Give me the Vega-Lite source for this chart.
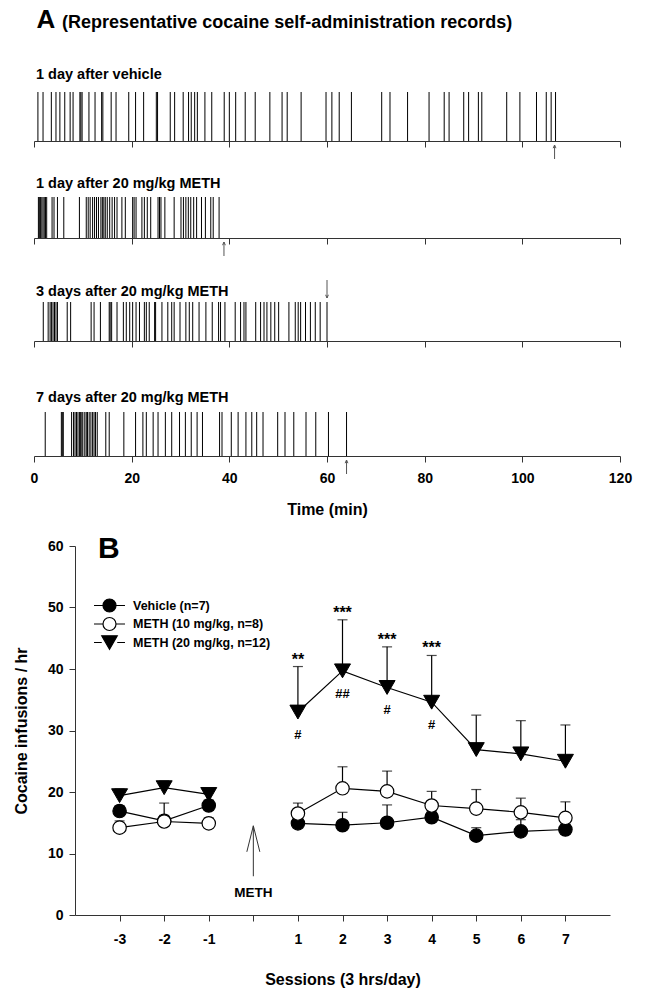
{
  "$schema": "https://vega.github.io/schema/vega-lite/v6.json",
  "background": "white",
  "padding": {"left": 13, "top": 6, "right": 4, "bottom": 4},
  "config": {
    "font": "Liberation Sans",
    "view": {"stroke": null},
    "axis": {"grid": false, "domainColor": "#333", "tickColor": "#333", "labelColor": "black", "titleColor": "black", "labelFont": "Liberation Sans", "titleFont": "Liberation Sans", "labelFontWeight": "bold", "titleFontWeight": "bold"},
    "title": {"font": "Liberation Sans", "fontWeight": "bold", "color": "black"},
    "legend": {"labelFont": "Liberation Sans"}
  },
  "datasets": {
    "events": [
      {"row":"r1","t":0.8},{"row":"r1","t":1.85},{"row":"r1","t":3.55},{"row":"r1","t":4.5},{"row":"r1","t":5.3},{"row":"r1","t":6.3},{"row":"r1","t":7.4},{"row":"r1","t":8.0},{"row":"r1","t":9.4},{"row":"r1","t":9.6},{"row":"r1","t":9.85},{"row":"r1","t":11.25},{"row":"r1","t":12.5},{"row":"r1","t":13.85},{"row":"r1","t":14.1},{"row":"r1","t":15.8},{"row":"r1","t":16.8},{"row":"r1","t":19.4},{"row":"r1","t":20.8},{"row":"r1","t":22.45},{"row":"r1","t":25.05},{"row":"r1","t":25.3},{"row":"r1","t":27.9},{"row":"r1","t":28.8},{"row":"r1","t":30.55},{"row":"r1","t":31.65},{"row":"r1","t":32.2},{"row":"r1","t":32.9},{"row":"r1","t":33.45},{"row":"r1","t":35.0},{"row":"r1","t":36.4},{"row":"r1","t":38.95},{"row":"r1","t":40.0},{"row":"r1","t":41.3},{"row":"r1","t":43.25},{"row":"r1","t":45.3},{"row":"r1","t":48.3},{"row":"r1","t":50.8},{"row":"r1","t":51.85},{"row":"r1","t":54.7},{"row":"r1","t":59.8},{"row":"r1","t":61.0},{"row":"r1","t":62.5},{"row":"r1","t":65.0},{"row":"r1","t":71.2},{"row":"r1","t":72.9},{"row":"r1","t":76.5},{"row":"r1","t":80.9},{"row":"r1","t":84.0},{"row":"r1","t":85.0},{"row":"r1","t":88.0},{"row":"r1","t":89.0},{"row":"r1","t":91.0},{"row":"r1","t":91.7},{"row":"r1","t":96.8},{"row":"r1","t":99.5},{"row":"r1","t":102.9},{"row":"r1","t":104.9},{"row":"r1","t":105.9},{"row":"r1","t":106.8},
      {"row":"r2","t":0.9},{"row":"r2","t":1.1},{"row":"r2","t":1.35},{"row":"r2","t":1.6},{"row":"r2","t":1.85},{"row":"r2","t":2.1},{"row":"r2","t":2.35},{"row":"r2","t":2.6},{"row":"r2","t":3.7},{"row":"r2","t":4.1},{"row":"r2","t":4.8},{"row":"r2","t":6.1},{"row":"r2","t":9.3},{"row":"r2","t":10.7},{"row":"r2","t":11.1},{"row":"r2","t":11.5},{"row":"r2","t":12.0},{"row":"r2","t":12.4},{"row":"r2","t":12.8},{"row":"r2","t":13.2},{"row":"r2","t":13.7},{"row":"r2","t":14.0},{"row":"r2","t":14.3},{"row":"r2","t":14.6},{"row":"r2","t":15.0},{"row":"r2","t":15.5},{"row":"r2","t":16.0},{"row":"r2","t":16.5},{"row":"r2","t":17.0},{"row":"r2","t":18.0},{"row":"r2","t":18.7},{"row":"r2","t":20.2},{"row":"r2","t":20.5},{"row":"r2","t":20.9},{"row":"r2","t":22.1},{"row":"r2","t":22.6},{"row":"r2","t":23.2},{"row":"r2","t":23.9},{"row":"r2","t":25.4},{"row":"r2","t":25.7},{"row":"r2","t":26.0},{"row":"r2","t":26.8},{"row":"r2","t":28.7},{"row":"r2","t":30.1},{"row":"r2","t":30.6},{"row":"r2","t":31.1},{"row":"r2","t":31.6},{"row":"r2","t":32.1},{"row":"r2","t":32.7},{"row":"r2","t":33.3},{"row":"r2","t":34.3},{"row":"r2","t":35.1},{"row":"r2","t":36.2},{"row":"r2","t":36.7},{"row":"r2","t":37.9},
      {"row":"r3","t":1.9},{"row":"r3","t":2.9},{"row":"r3","t":3.3},{"row":"r3","t":3.6},{"row":"r3","t":3.9},{"row":"r3","t":4.2},{"row":"r3","t":4.5},{"row":"r3","t":4.8},{"row":"r3","t":6.8},{"row":"r3","t":7.5},{"row":"r3","t":11.7},{"row":"r3","t":12.3},{"row":"r3","t":13.6},{"row":"r3","t":15.4},{"row":"r3","t":15.6},{"row":"r3","t":15.9},{"row":"r3","t":17.0},{"row":"r3","t":18.3},{"row":"r3","t":18.9},{"row":"r3","t":19.6},{"row":"r3","t":20.2},{"row":"r3","t":20.9},{"row":"r3","t":21.6},{"row":"r3","t":22.6},{"row":"r3","t":23.0},{"row":"r3","t":23.6},{"row":"r3","t":24.7},{"row":"r3","t":24.9},{"row":"r3","t":26.2},{"row":"r3","t":27.4},{"row":"r3","t":28.2},{"row":"r3","t":28.7},{"row":"r3","t":29.9},{"row":"r3","t":31.1},{"row":"r3","t":31.8},{"row":"r3","t":32.5},{"row":"r3","t":33.8},{"row":"r3","t":35.2},{"row":"r3","t":36.5},{"row":"r3","t":37.8},{"row":"r3","t":38.2},{"row":"r3","t":39.1},{"row":"r3","t":41.2},{"row":"r3","t":42.3},{"row":"r3","t":43.0},{"row":"r3","t":43.4},{"row":"r3","t":45.4},{"row":"r3","t":46.4},{"row":"r3","t":47.1},{"row":"r3","t":47.7},{"row":"r3","t":48.5},{"row":"r3","t":49.3},{"row":"r3","t":50.1},{"row":"r3","t":52.2},{"row":"r3","t":53.5},{"row":"r3","t":54.1},{"row":"r3","t":54.6},{"row":"r3","t":55.6},{"row":"r3","t":56.6},{"row":"r3","t":57.6},{"row":"r3","t":58.6},{"row":"r3","t":60.0},
      {"row":"r4","t":2.3},{"row":"r4","t":5.6},{"row":"r4","t":5.8},{"row":"r4","t":6.0},{"row":"r4","t":7.7},{"row":"r4","t":8.1},{"row":"r4","t":8.4},{"row":"r4","t":8.7},{"row":"r4","t":9.0},{"row":"r4","t":9.3},{"row":"r4","t":9.55},{"row":"r4","t":9.8},{"row":"r4","t":10.0},{"row":"r4","t":10.4},{"row":"r4","t":10.7},{"row":"r4","t":10.95},{"row":"r4","t":11.3},{"row":"r4","t":11.65},{"row":"r4","t":12.0},{"row":"r4","t":12.3},{"row":"r4","t":12.6},{"row":"r4","t":12.95},{"row":"r4","t":14.7},{"row":"r4","t":15.4},{"row":"r4","t":18.4},{"row":"r4","t":20.8},{"row":"r4","t":22.3},{"row":"r4","t":23.0},{"row":"r4","t":24.4},{"row":"r4","t":25.4},{"row":"r4","t":26.9},{"row":"r4","t":28.2},{"row":"r4","t":29.8},{"row":"r4","t":31.0},{"row":"r4","t":32.2},{"row":"r4","t":33.4},{"row":"r4","t":34.5},{"row":"r4","t":38.0},{"row":"r4","t":38.5},{"row":"r4","t":40.4},{"row":"r4","t":41.8},{"row":"r4","t":43.4},{"row":"r4","t":44.6},{"row":"r4","t":45.6},{"row":"r4","t":46.9},{"row":"r4","t":49.9},{"row":"r4","t":51.4},{"row":"r4","t":53.2},{"row":"r4","t":55.7},{"row":"r4","t":57.7},{"row":"r4","t":60.3},{"row":"r4","t":64.0}
    ],
    "arrows": [
      {"row":"r1","t":106.6},{"row":"r2","t":38.9},{"row":"r3","t":60.0},{"row":"r4","t":64.0}
    ],
    "b": [
      {"group":"Vehicle (n=7)","phase":"pre","session":-3,"mean":16.9,"cap":17.8},
      {"group":"Vehicle (n=7)","phase":"pre","session":-2,"mean":15.3,"cap":16.2},
      {"group":"Vehicle (n=7)","phase":"pre","session":-1,"mean":17.8,"cap":18.7},
      {"group":"Vehicle (n=7)","phase":"post","session":1,"mean":14.9,"cap":15.8},
      {"group":"Vehicle (n=7)","phase":"post","session":2,"mean":14.6,"cap":16.7},
      {"group":"Vehicle (n=7)","phase":"post","session":3,"mean":15.0,"cap":17.9},
      {"group":"Vehicle (n=7)","phase":"post","session":4,"mean":15.9,"cap":16.8},
      {"group":"Vehicle (n=7)","phase":"post","session":5,"mean":12.9,"cap":14.2},
      {"group":"Vehicle (n=7)","phase":"post","session":6,"mean":13.6,"cap":15.5},
      {"group":"Vehicle (n=7)","phase":"post","session":7,"mean":13.9,"cap":14.8},
      {"group":"METH (10 mg/kg, n=8)","phase":"pre","session":-3,"mean":14.2,"cap":15.3},
      {"group":"METH (10 mg/kg, n=8)","phase":"pre","session":-2,"mean":15.2,"cap":18.2},
      {"group":"METH (10 mg/kg, n=8)","phase":"pre","session":-1,"mean":14.9,"cap":15.8},
      {"group":"METH (10 mg/kg, n=8)","phase":"post","session":1,"mean":16.5,"cap":18.2},
      {"group":"METH (10 mg/kg, n=8)","phase":"post","session":2,"mean":20.6,"cap":24.1},
      {"group":"METH (10 mg/kg, n=8)","phase":"post","session":3,"mean":20.1,"cap":23.4},
      {"group":"METH (10 mg/kg, n=8)","phase":"post","session":4,"mean":17.8,"cap":20.1},
      {"group":"METH (10 mg/kg, n=8)","phase":"post","session":5,"mean":17.3,"cap":20.4},
      {"group":"METH (10 mg/kg, n=8)","phase":"post","session":6,"mean":16.7,"cap":19.0},
      {"group":"METH (10 mg/kg, n=8)","phase":"post","session":7,"mean":15.8,"cap":18.4},
      {"group":"METH (20 mg/kg, n=12)","phase":"pre","session":-3,"mean":19.4,"cap":20.5},
      {"group":"METH (20 mg/kg, n=12)","phase":"pre","session":-2,"mean":20.7,"cap":21.8},
      {"group":"METH (20 mg/kg, n=12)","phase":"pre","session":-1,"mean":19.6,"cap":20.2},
      {"group":"METH (20 mg/kg, n=12)","phase":"post","session":1,"mean":33.0,"cap":40.4},
      {"group":"METH (20 mg/kg, n=12)","phase":"post","session":2,"mean":39.7,"cap":48.0},
      {"group":"METH (20 mg/kg, n=12)","phase":"post","session":3,"mean":37.0,"cap":43.6},
      {"group":"METH (20 mg/kg, n=12)","phase":"post","session":4,"mean":34.6,"cap":42.2},
      {"group":"METH (20 mg/kg, n=12)","phase":"post","session":5,"mean":26.9,"cap":32.5},
      {"group":"METH (20 mg/kg, n=12)","phase":"post","session":6,"mean":26.2,"cap":31.6},
      {"group":"METH (20 mg/kg, n=12)","phase":"post","session":7,"mean":25.0,"cap":30.9}
    ],
    "sig": [
      {"session":1,"mean":33.0,"cap":40.4,"star":"**","hash":"#"},
      {"session":2,"mean":39.7,"cap":48.0,"star":"***","hash":"##"},
      {"session":3,"mean":37.0,"cap":43.6,"star":"***","hash":"#"},
      {"session":4,"mean":34.6,"cap":42.2,"star":"***","hash":"#"}
    ],
    "meth": [
      {"session":0,"lo":6.3,"hi":14.5,"label":"METH"}
    ]
  },
  "title": {"text": "A", "anchor": "start", "fontSize": 26, "baseline": "alphabetic", "offset": -40, "dx": 23},
  "spacing": 17,
  "resolve": {"scale": {"shape": "independent", "fill": "independent"}, "legend": {"shape": "independent", "fill": "independent"}},
  "vconcat": [
    {
      "title": {"text": "(Representative cocaine self-administration records)", "anchor": "start", "fontSize": 18, "baseline": "alphabetic", "offset": 21, "dx": 32},
      "spacing": 14,
      "vconcat": [
        {
          "title": {"text": "1 day after vehicle", "anchor": "start", "frame": "group", "fontSize": 14.5, "baseline": "alphabetic", "offset": -1.5, "dx": -39},
          "width": 545, "height": 49,
          "layer": [
            {"data": {"name": "events"}, "transform": [{"filter": "datum.row == 'r1'"}],
             "mark": {"type": "rule", "color": "black", "strokeWidth": 1},
             "encoding": {
               "x": {"field": "t", "type": "quantitative", "scale": {"domain": [0,120], "range": [-41,545], "nice": false, "zero": false}, "axis": {"values": [0,20,40,60,80,100,120], "labels": false, "title": null, "tickSize": 6}},
               "y": {"datum": 0, "type": "quantitative", "scale": {"domain": [0,1], "nice": false}, "axis": null},
               "y2": {"datum": 1}}},
            {"data": {"name": "arrows"}, "transform": [{"filter": "datum.row == 'r1'"}],
             "mark": {"type": "point", "shape": "M0,2V9M-0.7,3.6L0,2L0.7,3.6", "filled": false, "stroke": "#555", "strokeWidth": 1, "size": 16, "opacity": 1},
             "encoding": {"x": {"field": "t", "type": "quantitative"}, "y": {"datum": 0, "type": "quantitative"}}}
          ]
        },
        {
          "spacing": 20,
          "vconcat": [
            {
              "title": {"text": "1 day after 20 mg/kg METH", "anchor": "start", "frame": "group", "fontSize": 14.5, "baseline": "alphabetic", "offset": -5.5, "dx": -39},
              "width": 545, "height": 41,
              "layer": [
                {"data": {"name": "events"}, "transform": [{"filter": "datum.row == 'r2'"}],
                 "mark": {"type": "rule", "color": "black", "strokeWidth": 1},
                 "encoding": {
                   "x": {"field": "t", "type": "quantitative", "scale": {"domain": [0,120], "range": [-41,545], "nice": false, "zero": false}, "axis": {"values": [0,20,40,60,80,100,120], "labels": false, "title": null, "tickSize": 6}},
                   "y": {"datum": 0, "type": "quantitative", "scale": {"domain": [0,1], "nice": false}, "axis": null},
                   "y2": {"datum": 1}}},
                {"data": {"name": "arrows"}, "transform": [{"filter": "datum.row == 'r2'"}],
                 "mark": {"type": "point", "shape": "M0,2V9M-0.7,3.6L0,2L0.7,3.6", "filled": false, "stroke": "#555", "strokeWidth": 1, "size": 16, "opacity": 1},
                 "encoding": {"x": {"field": "t", "type": "quantitative"}, "y": {"datum": 0, "type": "quantitative"}}}
              ]
            },
            {
              "spacing": 41,
              "vconcat": [
                {
                  "title": {"text": "3 days after 20 mg/kg METH", "anchor": "start", "frame": "group", "fontSize": 14.5, "baseline": "alphabetic", "offset": -32.5, "dx": -39},
                  "width": 545, "height": 39,
                  "layer": [
                    {"data": {"name": "events"}, "transform": [{"filter": "datum.row == 'r3'"}],
                     "mark": {"type": "rule", "color": "black", "strokeWidth": 1},
                     "encoding": {
                       "x": {"field": "t", "type": "quantitative", "scale": {"domain": [0,120], "range": [-41,545], "nice": false, "zero": false}, "axis": {"values": [0,20,40,60,80,100,120], "labels": false, "title": null, "tickSize": 6}},
                       "y": {"datum": 0, "type": "quantitative", "scale": {"domain": [0,1], "nice": false}, "axis": null},
                       "y2": {"datum": 1}}},
                    {"data": {"name": "arrows"}, "transform": [{"filter": "datum.row == 'r3'"}],
                     "mark": {"type": "point", "shape": "M0,-11V-2M-0.7,-3.6L0,-2L0.7,-3.6", "filled": false, "stroke": "#555", "strokeWidth": 1, "size": 16, "opacity": 1},
                     "encoding": {"x": {"field": "t", "type": "quantitative"}, "y": {"datum": 1, "type": "quantitative"}}}
                  ]
                },
                {
                  "title": {"text": "7 days after 20 mg/kg METH", "anchor": "start", "frame": "group", "fontSize": 14.5, "baseline": "alphabetic", "offset": -4.5, "dx": -39},
                  "width": 545, "height": 44,
                  "layer": [
                    {"data": {"name": "events"}, "transform": [{"filter": "datum.row == 'r4'"}],
                     "mark": {"type": "rule", "color": "black", "strokeWidth": 1},
                     "encoding": {
                       "x": {"field": "t", "type": "quantitative", "scale": {"domain": [0,120], "range": [-41,545], "nice": false, "zero": false}, "axis": {"values": [0,20,40,60,80,100,120], "labels": true, "labelFontSize": 14, "labelPadding": 9, "labelFlush": false, "title": "Time (min)", "titleFontSize": 16, "titlePadding": 16, "titleX": 252, "tickSize": 6}},
                       "y": {"datum": 0, "type": "quantitative", "scale": {"domain": [0,1], "nice": false}, "axis": null},
                       "y2": {"datum": 1}}},
                    {"data": {"name": "arrows"}, "transform": [{"filter": "datum.row == 'r4'"}],
                     "mark": {"type": "point", "shape": "M0,2V9M-0.7,3.6L0,2L0.7,3.6", "filled": false, "stroke": "#555", "strokeWidth": 1, "size": 16, "opacity": 1},
                     "encoding": {"x": {"field": "t", "type": "quantitative"}, "y": {"datum": 0, "type": "quantitative"}}}
                  ]
                }
              ]
            }
          ]
        }
      ]
    },
    {
      "title": {"text": "B", "anchor": "start", "frame": "group", "fontSize": 30, "baseline": "alphabetic", "offset": -49, "dx": 23},
      "width": 535, "height": 369,
      "layer": [
        {"data": {"name": "b"},
         "mark": {"type": "line", "color": "black", "strokeWidth": 1.2},
         "encoding": {
           "x": {"field": "session", "type": "quantitative", "scale": {"domain": [-4,8], "nice": false, "zero": false},
                 "axis": {"values": [-3,-2,-1,0,1,2,3,4,5,6,7], "labelExpr": "datum.value == 0 ? '' : (datum.value < 0 ? '-' + abs(datum.value) : '' + datum.value)", "labelFontSize": 14, "labelPadding": 11, "labelFlush": false, "tickSize": 6, "title": "Sessions (3 hrs/day)", "titleFontSize": 16, "titlePadding": 25}},
           "y": {"field": "mean", "type": "quantitative", "scale": {"domain": [0,60], "nice": false},
                 "axis": {"values": [0,10,20,30,40,50,60], "labelFontSize": 14, "labelPadding": 6, "tickSize": 6, "title": "Cocaine infusions / hr", "titleFontSize": 16, "titlePadding": 18}},
           "detail": [{"field": "group"}, {"field": "phase"}]}},
        {"data": {"name": "b"},
         "mark": {"type": "rule", "color": "black", "strokeWidth": 1.2},
         "encoding": {"x": {"field": "session", "type": "quantitative"}, "y": {"field": "mean", "type": "quantitative"}, "y2": {"field": "cap"}}},
        {"data": {"name": "b"},
         "mark": {"type": "tick", "orient": "horizontal", "color": "black", "size": 10, "thickness": 1.2},
         "encoding": {"x": {"field": "session", "type": "quantitative"}, "y": {"field": "cap", "type": "quantitative"}}},
        {"data": {"name": "b"}, "transform": [{"filter": "datum.group == 'Vehicle (n=7)'"}],
         "mark": {"type": "point", "shape": "circle", "filled": true, "fill": "black", "stroke": "black", "strokeWidth": 1.2, "size": 180, "opacity": 1},
         "encoding": {"x": {"field": "session", "type": "quantitative"}, "y": {"field": "mean", "type": "quantitative"}}},
        {"data": {"name": "b"}, "transform": [{"filter": "datum.group == 'METH (10 mg/kg, n=8)'"}],
         "mark": {"type": "point", "shape": "circle", "filled": true, "fill": "white", "stroke": "black", "strokeWidth": 1.2, "size": 180, "opacity": 1},
         "encoding": {"x": {"field": "session", "type": "quantitative"}, "y": {"field": "mean", "type": "quantitative"}}},
        {"data": {"name": "b"}, "transform": [{"filter": "datum.group == 'METH (20 mg/kg, n=12)'"}],
         "mark": {"type": "point", "shape": "triangle-down", "filled": true, "fill": "black", "stroke": "black", "strokeWidth": 1, "size": 256, "opacity": 1},
         "encoding": {"x": {"field": "session", "type": "quantitative"}, "y": {"field": "mean", "type": "quantitative"}}},
        {"data": {"name": "b"},
         "mark": {"type": "point", "filled": false, "opacity": 0, "stroke": "black", "strokeWidth": 1.2},
         "encoding": {
           "x": {"field": "session", "type": "quantitative"}, "y": {"field": "mean", "type": "quantitative"},
           "shape": {"field": "group", "type": "nominal", "title": null,
             "scale": {"domain": ["Vehicle (n=7)", "METH (10 mg/kg, n=8)", "METH (20 mg/kg, n=12)"],
                       "range": ["M-2,0H-0.84M0.84,0H2M-0.84,0A0.84,0.84,0,1,0,0.84,0A0.84,0.84,0,1,0,-0.84,0Z", "M-2,0H-0.84M0.84,0H2M-0.84,0A0.84,0.84,0,1,0,0.84,0A0.84,0.84,0,1,0,-0.84,0Z", "M-2,0H-1M1,0H2M0,0.87L-1,-0.87L1,-0.87Z"]},
             "legend": {"orient": "none", "legendX": 26, "legendY": 51, "symbolSize": 240, "symbolOpacity": 1, "symbolStrokeColor": "black", "symbolStrokeWidth": 1.2, "labelOffset": 15, "rowPadding": -0.5, "labelFontSize": 12.5, "labelFontWeight": "bold", "labelColor": "black", "padding": 0, "title": null,
                        "encode": {"symbols": {"update": {"stroke": {"value": "black"}, "strokeWidth": {"value": 1.2}, "opacity": {"value": 1}}}}}},
           "fill": {"field": "group", "type": "nominal", "title": null,
             "scale": {"domain": ["Vehicle (n=7)", "METH (10 mg/kg, n=8)", "METH (20 mg/kg, n=12)"], "range": ["black", "white", "black"]},
             "legend": {"orient": "none", "legendX": 26, "legendY": 51, "symbolSize": 240, "symbolOpacity": 1, "symbolStrokeColor": "black", "symbolStrokeWidth": 1.2, "labelOffset": 15, "rowPadding": -0.5, "labelFontSize": 12.5, "labelFontWeight": "bold", "labelColor": "black", "padding": 0, "title": null,
                        "encode": {"symbols": {"update": {"stroke": {"value": "black"}, "strokeWidth": {"value": 1.2}, "opacity": {"value": 1}}}}}}}},
        {"data": {"name": "sig"},
         "mark": {"type": "text", "fontSize": 16, "fontWeight": "bold", "baseline": "alphabetic", "dy": -2, "color": "black"},
         "encoding": {"x": {"field": "session", "type": "quantitative"}, "y": {"field": "cap", "type": "quantitative"}, "text": {"field": "star"}}},
        {"data": {"name": "sig"},
         "mark": {"type": "text", "fontSize": 13, "fontWeight": "bold", "baseline": "alphabetic", "dy": 27, "color": "black"},
         "encoding": {"x": {"field": "session", "type": "quantitative"}, "y": {"field": "mean", "type": "quantitative"}, "text": {"field": "hash"}}},
        {"data": {"name": "meth"},
         "mark": {"type": "rule", "color": "#333", "strokeWidth": 1},
         "encoding": {"x": {"field": "session", "type": "quantitative"}, "y": {"field": "lo", "type": "quantitative"}, "y2": {"field": "hi"}}},
        {"data": {"name": "meth"},
         "mark": {"type": "point", "shape": "M-1,4L0,0L1,4", "filled": false, "stroke": "#333", "strokeWidth": 1, "size": 169, "opacity": 1},
         "encoding": {"x": {"field": "session", "type": "quantitative"}, "y": {"field": "hi", "type": "quantitative"}}},
        {"data": {"name": "meth"},
         "mark": {"type": "text", "fontSize": 13.5, "fontWeight": "bold", "baseline": "alphabetic", "dy": 21, "color": "black"},
         "encoding": {"x": {"field": "session", "type": "quantitative"}, "y": {"field": "lo", "type": "quantitative"}, "text": {"field": "label"}}}
      ]
    }
  ]
}
